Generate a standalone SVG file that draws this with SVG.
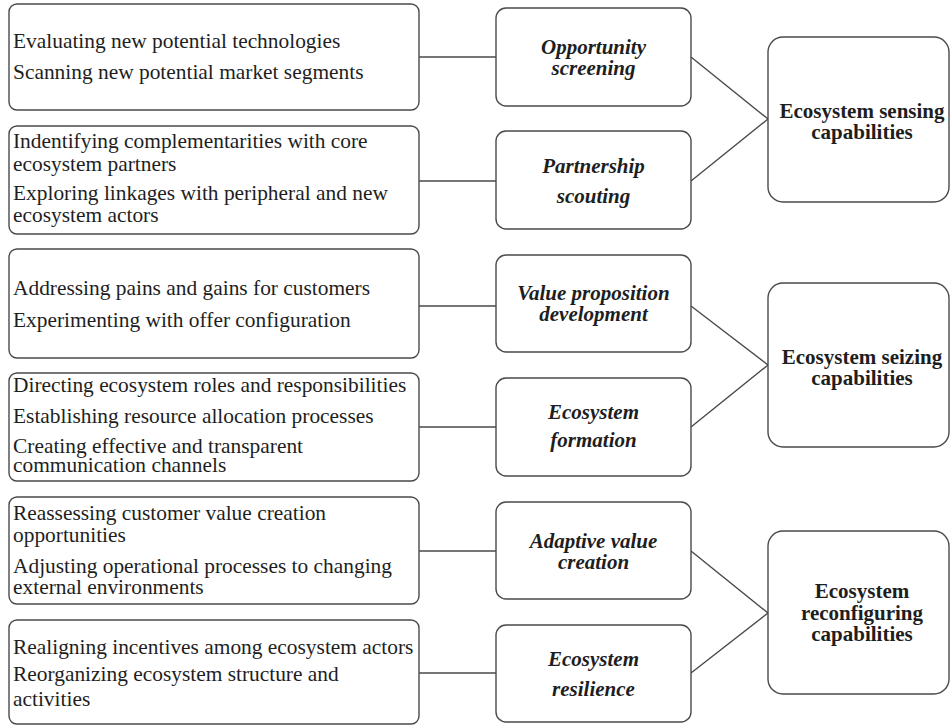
<svg xmlns="http://www.w3.org/2000/svg" width="951" height="726" viewBox="0 0 951 726">
<style>
.bx{fill:#fff;stroke:#4a4a4a;stroke-width:1.4}
.t{font-family:"Liberation Serif","DejaVu Serif",serif;font-size:21.4px;fill:#1e1e1e}
.m{font-family:"Liberation Serif","DejaVu Serif",serif;font-size:21px;font-weight:bold;font-style:italic;fill:#1e1e1e;text-anchor:middle}
.r{font-family:"Liberation Serif","DejaVu Serif",serif;font-size:21px;font-weight:bold;fill:#1e1e1e;text-anchor:middle}
.c{fill:none;stroke:#4a4a4a;stroke-width:1.4}
</style>
<rect width="951" height="726" fill="#fff"/>
<g id="connectors">
<path class="c" d="M419,57H496M419,181H496M419,306H496M419,427H496M419,551H496M419,673H496"/>
<path class="c" d="M691,57L768,119L691,181M691,306L768,365L691,427M691,551L768,613L691,673"/>
</g>
<g id="l1"><rect class="bx" x="9" y="4" width="410" height="106" rx="8"/>
<text class="t" x="13" y="48">Evaluating new potential technologies</text>
<text class="t" x="13" y="79">Scanning new potential market segments</text></g>
<g id="l2"><rect class="bx" x="9" y="126" width="410" height="108" rx="8"/>
<text class="t" x="13" y="148">Indentifying complementarities with core</text>
<text class="t" x="13" y="171">ecosystem partners</text>
<text class="t" x="13" y="200">Exploring linkages with peripheral and new</text>
<text class="t" x="13" y="222">ecosystem actors</text></g>
<g id="l3"><rect class="bx" x="9" y="249" width="410" height="109" rx="8"/>
<text class="t" x="13" y="295">Addressing pains and gains for customers</text>
<text class="t" x="13" y="327">Experimenting with offer configuration</text></g>
<g id="l4"><rect class="bx" x="9" y="373" width="410" height="108" rx="8"/>
<text class="t" x="13" y="392">Directing ecosystem roles and responsibilities</text>
<text class="t" x="13" y="423">Establishing resource allocation processes</text>
<text class="t" x="13" y="453">Creating effective and transparent</text>
<text class="t" x="13" y="472">communication channels</text></g>
<g id="l5"><rect class="bx" x="9" y="497" width="410" height="107" rx="8"/>
<text class="t" x="13" y="520">Reassessing customer value creation</text>
<text class="t" x="13" y="542">opportunities</text>
<text class="t" x="13" y="573">Adjusting operational processes to changing</text>
<text class="t" x="13" y="594">external environments</text></g>
<g id="l6"><rect class="bx" x="9" y="620" width="410" height="104" rx="8"/>
<text class="t" x="13" y="654">Realigning incentives among ecosystem actors</text>
<text class="t" x="13" y="681">Reorganizing ecosystem structure and</text>
<text class="t" x="13" y="706">activities</text></g>
<g id="m1"><rect class="bx" x="496" y="8" width="195" height="98" rx="10"/>
<text class="m" x="593.5" y="54">Opportunity</text>
<text class="m" x="593.5" y="75">screening</text></g>
<g id="m2"><rect class="bx" x="496" y="131" width="195" height="98" rx="10"/>
<text class="m" x="593.5" y="173">Partnership</text>
<text class="m" x="593.5" y="203">scouting</text></g>
<g id="m3"><rect class="bx" x="496" y="255" width="195" height="97" rx="10"/>
<text class="m" x="593.5" y="300">Value proposition</text>
<text class="m" x="593.5" y="321">development</text></g>
<g id="m4"><rect class="bx" x="496" y="378" width="195" height="98" rx="10"/>
<text class="m" x="593.5" y="419">Ecosystem</text>
<text class="m" x="593.5" y="447">formation</text></g>
<g id="m5"><rect class="bx" x="496" y="502" width="195" height="97" rx="10"/>
<text class="m" x="593.5" y="548">Adaptive value</text>
<text class="m" x="593.5" y="569">creation</text></g>
<g id="m6"><rect class="bx" x="496" y="625" width="195" height="97" rx="10"/>
<text class="m" x="593.5" y="666">Ecosystem</text>
<text class="m" x="593.5" y="696">resilience</text></g>
<g id="r1"><rect class="bx" x="768" y="37" width="181" height="165" rx="15"/>
<text class="r" x="862" y="118">Ecosystem sensing</text>
<text class="r" x="862" y="139">capabilities</text></g>
<g id="r2"><rect class="bx" x="768" y="283" width="181" height="164" rx="15"/>
<text class="r" x="862" y="364">Ecosystem seizing</text>
<text class="r" x="862" y="385">capabilities</text></g>
<g id="r3"><rect class="bx" x="768" y="531" width="181" height="163" rx="15"/>
<text class="r" x="862" y="598">Ecosystem</text>
<text class="r" x="862" y="620">reconfiguring</text>
<text class="r" x="862" y="641">capabilities</text></g>
</svg>
